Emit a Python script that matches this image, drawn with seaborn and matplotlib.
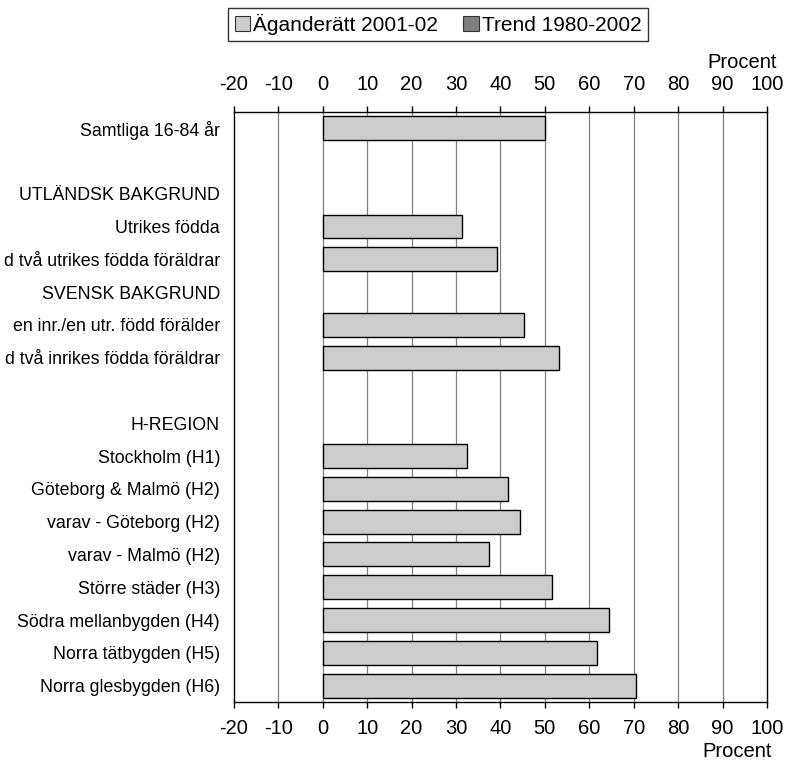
import pandas as pd
import matplotlib
matplotlib.use("Agg")
import matplotlib.pyplot as plt
from matplotlib.patches import Patch
import seaborn as sns

# row labels as seen in the chart (blank rows and group headers carry no bar)
labels = [
    "Samtliga 16-84 år",
    " ",
    "UTLÄNDSK BAKGRUND",
    "Utrikes födda",
    "d två utrikes födda föräldrar",
    "SVENSK BAKGRUND",
    "en inr./en utr. född förälder",
    "d två inrikes födda föräldrar",
    "  ",
    "H-REGION",
    "Stockholm (H1)",
    "Göteborg & Malmö (H2)",
    "varav - Göteborg (H2)",
    "varav - Malmö (H2)",
    "Större städer (H3)",
    "Södra mellanbygden (H4)",
    "Norra tätbygden (H5)",
    "Norra glesbygden (H6)",
]

# share with ownership 2001-02, percent
agande = [50.0, None, None, 31.4, 39.2, None, 45.3, 53.2, None, None,
          32.4, 41.8, 44.3, 37.5, 51.5, 64.4, 61.8, 70.5]

series_names = ["Äganderätt 2001-02", "Trend 1980-2002"]
xticks = list(range(-20, 101, 10))

data = pd.DataFrame({"label": labels, "value": agande})

sns.set_theme(style="white")
plt.rcParams["font.family"] = ["Liberation Sans", "DejaVu Sans"]
plt.rcParams["text.color"] = "black"
plt.rcParams["xtick.color"] = "black"
plt.rcParams["ytick.color"] = "black"

fig = plt.figure(figsize=(7.85, 7.6), dpi=100)
ax = fig.add_axes([0.298, 0.0763, 0.679, 0.7767])

sns.barplot(data=data, y="label", x="value", order=labels, orient="h",
            color="#cccccc", edgecolor="black", linewidth=1.0,
            width=0.73, saturation=1, ax=ax, zorder=3)

ax.set_xlim(-20, 100)
ax.set_xticks(xticks)
ax.set_xticklabels([str(t) for t in xticks])
ax.set_xlabel("")
ax.set_ylabel("")

# vertical gridlines
for t in xticks[1:-1]:
    ax.axvline(t, color="#808080", lw=0.9, zorder=1)

for s in ax.spines.values():
    s.set_visible(True)
    s.set_color("black")
    s.set_linewidth(1.0)

ax.tick_params(axis="x", which="both", top=True, labeltop=True,
               bottom=True, labelbottom=True, direction="out",
               length=4, width=1, color="black", labelsize=14.5, pad=8.5)
ax.tick_params(axis="y", length=0, labelsize=12.8, pad=10)

# "Procent" unit labels
fig.text(0.946, 0.918, "Procent", fontsize=14.5, ha="center", va="center")
fig.text(0.939, 0.011, "Procent", fontsize=14.5, ha="center", va="center")

handles = [
    Patch(facecolor="#cccccc", edgecolor="#333333", linewidth=0.8),
    Patch(facecolor="#808080", edgecolor="#333333", linewidth=0.8),
]
leg = fig.legend(handles, series_names, loc="upper center",
                 bbox_to_anchor=(0.558, 0.99), ncol=2, fontsize=15,
                 frameon=True, fancybox=False, edgecolor="black",
                 handlelength=0.75, handleheight=0.75, handletextpad=0.15,
                 columnspacing=1.2, borderpad=0.3, borderaxespad=0)
leg.get_frame().set_linewidth(1.0)

fig.savefig("out.png", dpi=100)
